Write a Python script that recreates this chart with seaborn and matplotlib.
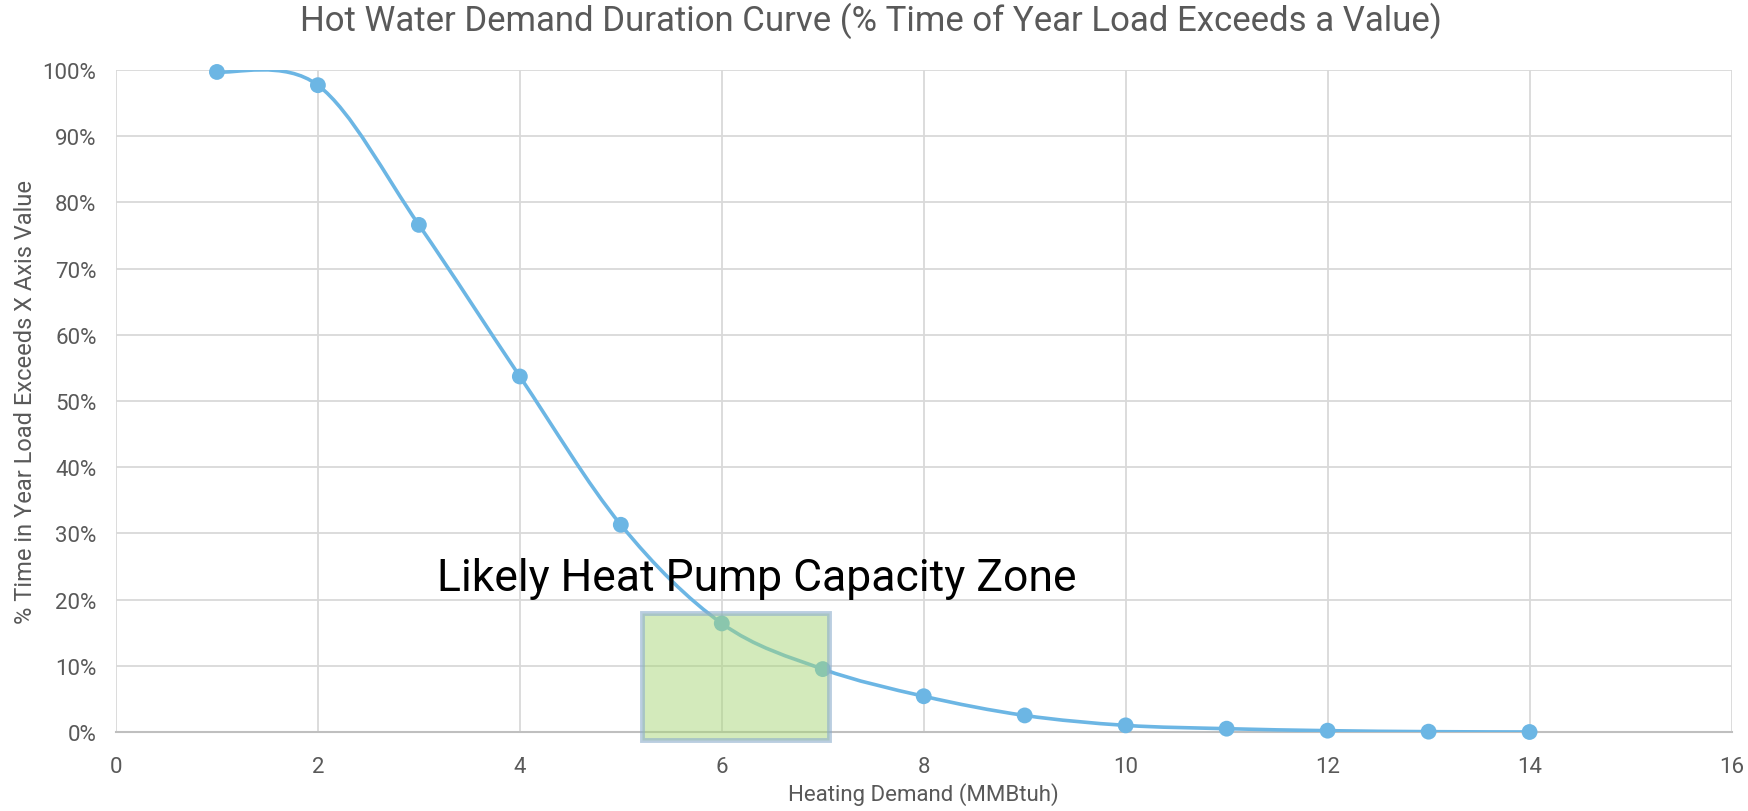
"""
Hot water demand duration curve with heat pump capacity zone
"""

import numpy as np
import matplotlib
matplotlib.use('Agg')
import matplotlib.pyplot as plt
from matplotlib.path import Path
from matplotlib.patches import PathPatch, Rectangle
from matplotlib.ticker import PercentFormatter, MultipleLocator
import seaborn as sns

# data
demand = [1, 2, 3, 4, 5, 6, 7, 8, 9, 10, 11, 12, 13, 14]
pct_exceed = [0.997, 0.977, 0.766, 0.537, 0.313, 0.164, 0.095, 0.054,
              0.025, 0.010, 0.005, 0.002, 0.0005, 0.0]

zone_x = [5.21, 7.06]
zone_y = [-0.012, 0.179]
zone_label = "Likely Heat Pump Capacity Zone"

title = "Hot Water Demand Duration Curve (% Time of Year Load Exceeds a Value)"
xlabel = "Heating Demand (MMBtuh)"
ylabel = "% Time in Year Load Exceeds X Axis Value"

LINE = '#6cb6e4'
GREY = '#595959'

sns.set_theme(style='white')
plt.rcParams['font.family'] = ['Roboto', 'DejaVu Sans']

fig = plt.figure(figsize=(17.49, 8.12), dpi=100)
ax = fig.add_axes([0.0663, 0.0973, 0.9237, 0.8153])

# smoothed line like Excel (Catmull-Rom style bezier)
pts = np.column_stack([demand, pct_exceed])
verts = [tuple(pts[0])]
codes = [Path.MOVETO]
n = len(pts)
for i in range(n - 1):
    p0 = pts[max(i - 1, 0)]
    p1 = pts[i]
    p2 = pts[i + 1]
    p3 = pts[min(i + 2, n - 1)]
    c1 = p1 + (p2 - p0) / 6.0
    c2 = p2 - (p3 - p1) / 6.0
    verts += [tuple(c1), tuple(c2), tuple(p2)]
    codes += [Path.CURVE4] * 3
ax.add_patch(PathPatch(Path(verts, codes), facecolor='none', edgecolor=LINE,
                       lw=2.6, zorder=3, capstyle='round'))

sns.scatterplot(x=demand, y=pct_exceed, ax=ax, s=130, color=LINE,
                edgecolor='none', zorder=4, clip_on=False)

# capacity zone box
rect = Rectangle((zone_x[0], zone_y[0]), zone_x[1] - zone_x[0], zone_y[1] - zone_y[0],
                 facecolor=(0.66, 0.84, 0.47, 0.5), edgecolor=(0.55, 0.68, 0.80, 0.6),
                 lw=3.5, zorder=5, clip_on=False)
ax.add_patch(rect)
ax.text(6.35, 0.232, zone_label, ha='center', va='center', fontsize=32,
        color='black', zorder=6)

ax.set_xlim(0, 16)
ax.set_ylim(0, 1.0)
ax.xaxis.set_major_locator(MultipleLocator(2))
ax.yaxis.set_major_locator(MultipleLocator(0.1))
ax.yaxis.set_major_formatter(PercentFormatter(1.0, decimals=0))
ax.grid(True, color='#d9d9d9', lw=1.3)
ax.set_axisbelow(True)
for s in ['top', 'right', 'left']:
    ax.spines[s].set_visible(False)
ax.spines['bottom'].set_color('#bfbfbf')
ax.spines['bottom'].set_linewidth(1.5)
ax.tick_params(axis='both', length=0, labelsize=16, labelcolor=GREY)
ax.tick_params(axis='x', pad=17)
ax.tick_params(axis='y', pad=14)

ax.set_xlabel(xlabel, fontsize=16, color=GREY, labelpad=4)
ax.set_ylabel(ylabel, fontsize=17, color=GREY, labelpad=4)
fig.text(0.498, 0.975, title, ha='center', va='center', fontsize=25, color=GREY)

plt.savefig('out.png', dpi=100)
